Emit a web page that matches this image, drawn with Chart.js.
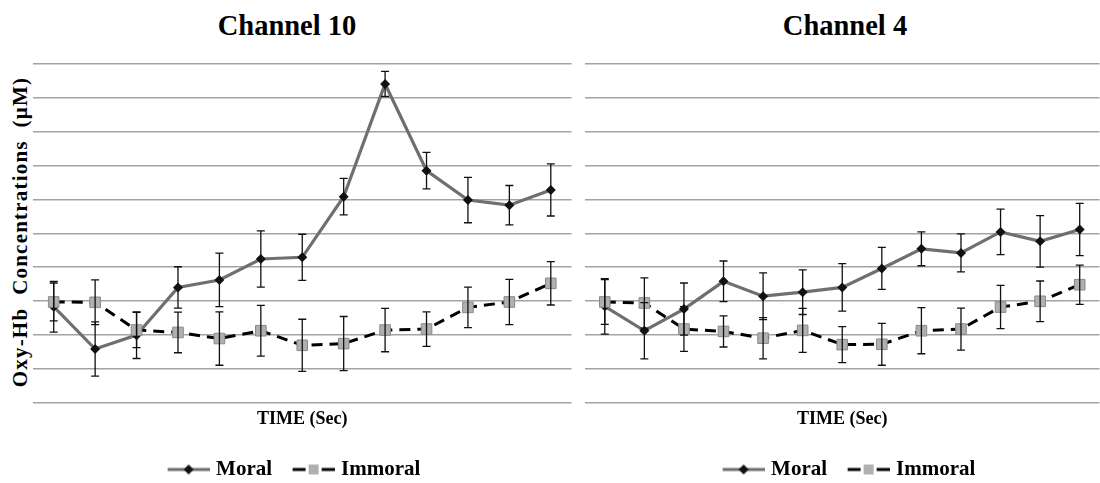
<!DOCTYPE html>
<html>
<head>
  <title>Oxy-Hb Channel 10 / Channel 4</title>
  <style>
    body {
      margin: 0;
      width: 1100px;
      height: 483px;
      overflow: hidden;
      position: relative;
      background: #fff;
      font-family: "Liberation Serif", "Times New Roman", serif;
    }
    canvas {
      position: absolute;
      top: 0;
    }
    .chart-title {
      position: absolute;
      top: 12px;
      width: 300px;
      text-align: center;
      font-size: 28.5px;
      line-height: 28.5px;
      font-weight: bold;
      color: #000;
    }
    .y-label {
      position: absolute;
      left: -150px;
      top: 220px;
      width: 340px;
      height: 24px;
      line-height: 24px;
      text-align: center;
      font-size: 21px;
      font-weight: bold;
      letter-spacing: 1.2px;
      white-space: pre;
      transform: rotate(-90deg);
    }
  </style>
</head>
<body>
  <div class="chart-title" style="left:137px">Channel 10</div>
  <div class="chart-title" style="left:695px">Channel 4</div>
  <div class="y-label">Oxy-Hb  Concentrations  (µM)</div>

  <canvas id="ch10" width="580" height="483" style="left:0"></canvas>
  <canvas id="ch4" width="548" height="483" style="left:560px"></canvas>

  <script src="https://cdn.jsdelivr.net/npm/chart.js"></script>

  <script>
    // 13 time bins, no labels shown on the axis
    const timeBins = ['1', '2', '3', '4', '5', '6', '7', '8', '9', '10', '11', '12', '13'];
    const seriesNames = ['Moral', 'Immoral'];

    // Channel 10
    const moral10 = [2.83, 1.58, 1.99, 3.40, 3.62, 4.24, 4.29, 6.08, 9.41, 6.85, 5.98, 5.83, 6.28];
    const moralErr10 = [0.75, 0.80, 0.69, 0.61, 0.79, 0.83, 0.68, 0.54, 0.37, 0.54, 0.67, 0.58, 0.77];
    const immoral10 = [2.97, 2.96, 2.14, 2.07, 1.89, 2.12, 1.69, 1.74, 2.14, 2.17, 2.81, 2.97, 3.52];
    const immoralErr10 = [0.56, 0.66, 0.52, 0.60, 0.79, 0.75, 0.77, 0.80, 0.64, 0.51, 0.60, 0.67, 0.64];

    // Channel 4
    const moral4 = [2.84, 2.12, 2.76, 3.58, 3.14, 3.26, 3.40, 3.96, 4.54, 4.42, 5.04, 4.76, 5.11];
    const moralErr4 = [0.82, 0.83, 0.77, 0.60, 0.69, 0.66, 0.70, 0.62, 0.50, 0.56, 0.67, 0.76, 0.77];
    const immoral4 = [2.97, 2.94, 2.17, 2.10, 1.90, 2.13, 1.71, 1.72, 2.12, 2.17, 2.82, 2.99, 3.48];
    const immoralErr4 = [0.66, 0.74, 0.66, 0.46, 0.61, 0.65, 0.53, 0.62, 0.68, 0.62, 0.64, 0.60, 0.58];

    const FONT = 'Liberation Serif';

    // little line+marker pictures for the legend (excel style)
    function legendIcon(kind) {
      const c = document.createElement('canvas');
      c.width = 62;
      c.height = 16;
      const g = c.getContext('2d');
      if (kind === 'moral') {
        g.strokeStyle = '#6d6d6d';
        g.lineWidth = 3;
        g.beginPath(); g.moveTo(20, 8); g.lineTo(62, 8); g.stroke();
        g.fillStyle = '#111';
        g.beginPath(); g.moveTo(41, 3); g.lineTo(46, 8); g.lineTo(41, 13); g.lineTo(36, 8); g.closePath(); g.fill();
      } else {
        g.strokeStyle = '#000';
        g.lineWidth = 3;
        g.beginPath(); g.moveTo(20, 8); g.lineTo(33, 8); g.moveTo(49, 8); g.lineTo(62, 8); g.stroke();
        g.fillStyle = '#b0b0b0';
        g.fillRect(36, 3, 10, 10);
      }
      return c;
    }
    const icons = [legendIcon('moral'), legendIcon('immoral')];

    const errorBars = {
      id: 'errorBars',
      afterDatasetsDraw(chart) {
        const { ctx, scales: { x, y } } = chart;
        ctx.save();
        ctx.strokeStyle = '#111';
        ctx.lineWidth = 1.3;
        chart.data.datasets.forEach((ds) => {
          ds.data.forEach((v, i) => {
            if (v == null) return;
            const e = ds.errors[i];
            const px = x.getPixelForValue(i);
            const top = y.getPixelForValue(v + e);
            const bot = y.getPixelForValue(v - e);
            ctx.beginPath();
            ctx.moveTo(px, top); ctx.lineTo(px, bot);
            ctx.moveTo(px - 4, top); ctx.lineTo(px + 4, top);
            ctx.moveTo(px - 4, bot); ctx.lineTo(px + 4, bot);
            ctx.stroke();
          });
        });
        ctx.restore();
      }
    };

    function makeChart(id, moral, moralErr, immoral, immoralErr, axisWidth, padLeft, padRight) {
      const ctx = document.getElementById(id).getContext('2d');
      return new Chart(ctx, {
        type: 'line',
        data: {
          labels: timeBins,
          datasets: [{
            label: seriesNames[0],
            data: moral,
            errors: moralErr,
            order: 1,
            borderColor: '#6f6f6f',
            borderWidth: 3.2,
            pointStyle: 'rectRot',
            pointRadius: 5,
            pointBackgroundColor: '#111',
            pointBorderColor: '#111',
            pointBorderWidth: 0,
            tension: 0
          }, {
            label: seriesNames[1],
            data: immoral,
            errors: immoralErr,
            order: 0,
            borderColor: '#000',
            borderWidth: 3,
            borderDash: [11, 7],
            pointStyle: 'rect',
            pointRadius: 7.5,
            pointBackgroundColor: '#b0b0b0',
            pointBorderColor: '#8a8a8a',
            pointBorderWidth: 1,
            tension: 0
          }]
        },
        options: {
          responsive: false,
          animation: false,
          layout: { padding: { top: 64, right: padRight, bottom: -7, left: padLeft } },
          scales: {
            x: {
              offset: true,
              grid: { display: false },
              border: { display: false },
              ticks: { display: false },
              title: {
                display: true,
                text: 'TIME (Sec)',
                color: '#000',
                font: { family: FONT, size: 18, weight: 'bold' },
                padding: { top: -2, bottom: 24.4 }
              }
            },
            y: {
              min: 0,
              max: 10,
              ticks: { display: false, stepSize: 1 },
              border: { display: false },
              grid: { color: '#a3a3a3', lineWidth: 1.4, drawTicks: false },
              afterFit(scale) { scale.width = axisWidth; }
            }
          },
          plugins: {
            tooltip: { enabled: false },
            legend: {
              position: 'bottom',
              labels: {
                usePointStyle: true,
                pointStyleWidth: 54,
                padding: 4.5,
                color: '#000',
                font: { family: FONT, size: 21, weight: 'bold' },
                generateLabels(chart) {
                  return chart.data.datasets.map((ds, i) => ({
                    text: ds.label,
                    pointStyle: icons[i],
                    fillStyle: 'transparent',
                    strokeStyle: 'transparent',
                    lineWidth: 0,
                    hidden: false,
                    datasetIndex: i
                  }));
                }
              }
            }
          }
        },
        plugins: [errorBars]
      });
    }

    makeChart('ch10', moral10, moralErr10, immoral10, immoralErr10, 33, 0, 8);
    makeChart('ch4', moral4, moralErr4, immoral4, immoralErr4, 11, 14, 0);
  </script>
</body>
</html>
